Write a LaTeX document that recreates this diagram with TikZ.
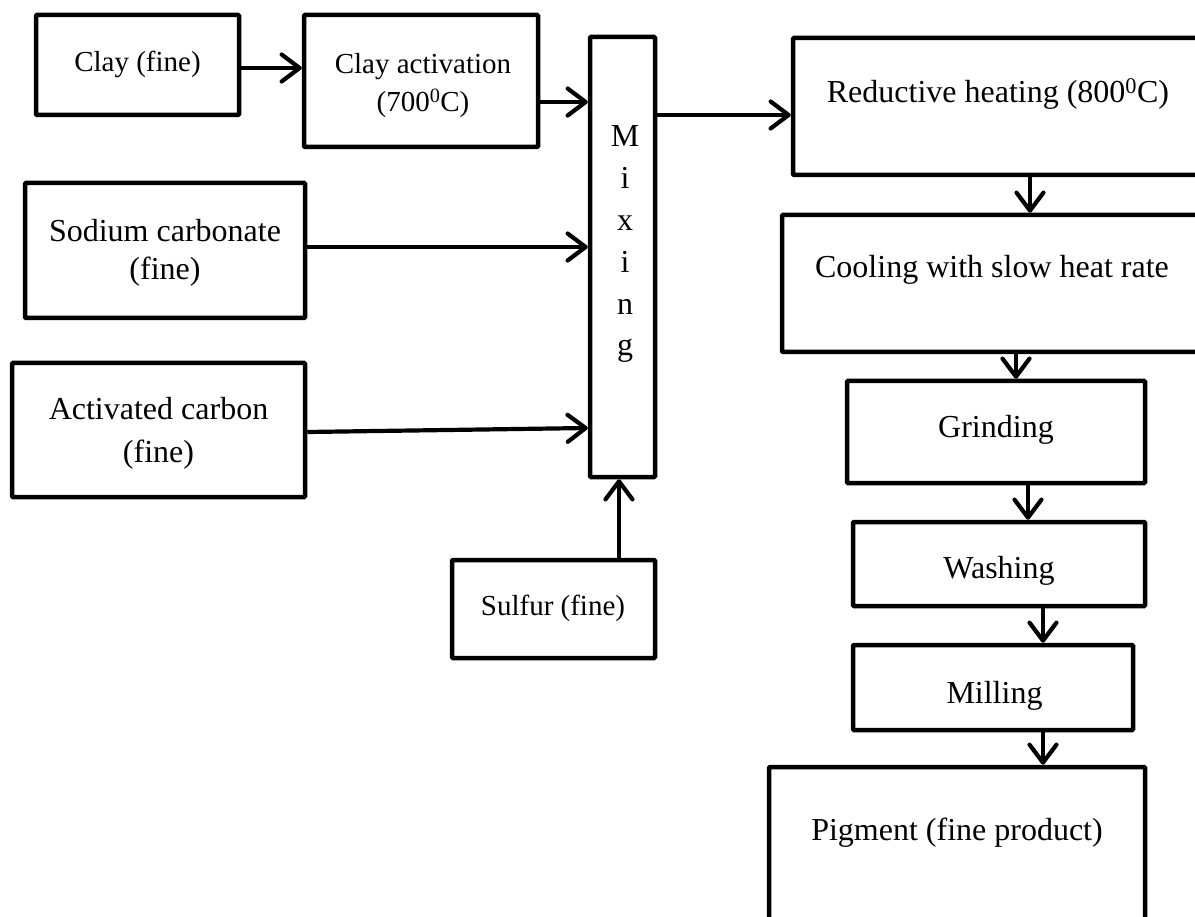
\documentclass[tikz,border=0pt]{standalone}
\usepackage{fontspec}
\setmainfont{Liberation Serif}
\usetikzlibrary{arrows.meta,calc}
\begin{document}
\begin{tikzpicture}[x=1pt,y=-1pt,
  box/.style={draw, line width=4.5pt, inner sep=0pt, rounded corners=1pt},
  big/.style={font=\fontsize{32}{38}\selectfont, inner sep=0pt, anchor=base},
  small/.style={font=\fontsize{29}{35}\selectfont, inner sep=0pt, anchor=base},
  arr/.style={line width=4.2pt, -{Straight Barb[length=18pt,width=27pt,round]}}
]
\useasboundingbox (0,0) rectangle (1195,917);
\clip (0,0) rectangle (1195,917);

% left inputs
\node[box, minimum width=203pt, minimum height=100pt] (clay) at (137.5,65) {};
\node[small] (clayT) at (137.5,72) {Clay (fine)};
\node[box, minimum width=234pt, minimum height=132pt] (clayact) at (421,81) {};
\node[small] (clayactT1) at (423,74) {Clay activation};
\node[small] (clayactT2) at (423,112) {(700\textsuperscript{0}C)};
\node[box, minimum width=280pt, minimum height=135pt] (sod) at (165,250.5) {};
\node[big] (sodT1) at (165,242) {Sodium carbonate};
\node[big] (sodT2) at (165,280) {(fine)};
\node[box, minimum width=293pt, minimum height=134pt] (act) at (158.5,430) {};
\node[big] (actT1) at (158.5,420) {Activated carbon};
\node[big] (actT2) at (158.5,462) {(fine)};
\node[box, minimum width=203pt, minimum height=98pt] (sulf) at (553.5,609) {};
\node[small] (sulfT) at (553,615) {Sulfur (fine)};

% mixing
\node[box, minimum width=65pt, minimum height=440pt] (mix) at (622.5,257) {};
\foreach \l [count=\i] in {M,i,x,i,n,g}
  \node[big] (mix\i) at (625,{147+41.8*(\i-1)}) {\l};

% process chain
\node[box, minimum width=410pt, minimum height=137pt] (red) at (998,106.5) {};
\node[big] (redT) at (998,103) {Reductive heating (800\textsuperscript{0}C)};
\node[box, minimum width=420pt, minimum height=137pt] (cool) at (992,283.5) {};
\node[big] (coolT) at (992,278) {Cooling with slow heat rate};
\node[box, minimum width=298pt, minimum height=102pt] (grind) at (996,432) {};
\node[big] (grindT) at (996,438) {Grinding};
\node[box, minimum width=292pt, minimum height=84pt] (wash) at (999,564) {};
\node[big] (washT) at (999,578) {Washing};
\node[box, minimum width=280pt, minimum height=85pt] (mill) at (993,687.5) {};
\node[big] (millT) at (994.5,703) {Milling};
\node[box, minimum width=376pt, minimum height=233pt] (pig) at (957,883.5) {};
\node[big] (pigT) at (957,840) {Pigment (fine product)};

% connectors
\coordinate (a1) at ([yshift=-3pt]clay.east);
\draw[arr] (a1) -- (a1 -| clayact.west);
\coordinate (a2) at ([yshift=-21pt]clayact.east);
\draw[arr] (a2) -- (a2 -| mix.west);
\coordinate (a3) at ([yshift=3.5pt]sod.east);
\draw[arr] (a3) -- (a3 -| mix.west);
\coordinate (a4) at ([yshift=-2pt]act.east);
\coordinate (a4e) at (act.east -| mix.west);
\draw[arr] (a4) -- ([yshift=2pt]a4e);
\coordinate (a5) at ([xshift=65.5pt]sulf.north);
\draw[arr] (a5) -- (a5 |- mix.south);
\coordinate (a6) at ([yshift=-8.5pt]red.west);
\draw[arr] (a6 -| mix.east) -- (a6);
\coordinate (a7) at ([xshift=32pt]red.south);
\draw[arr] (a7) -- (a7 |- cool.north);
\coordinate (a8) at ([xshift=24pt,yshift=4pt]cool.south);
\draw[arr] (a8) -- (a8 |- grind.north);
\coordinate (a9) at ([xshift=32pt]grind.south);
\draw[arr] (a9) -- (a9 |- wash.north);
\coordinate (a10) at ([xshift=44pt]wash.south);
\draw[arr] (a10) -- (a10 |- mill.north);
\coordinate (a11) at ([xshift=50pt]mill.south);
\draw[arr] (a11) -- (a11 |- pig.north);
\end{tikzpicture}
\end{document}
